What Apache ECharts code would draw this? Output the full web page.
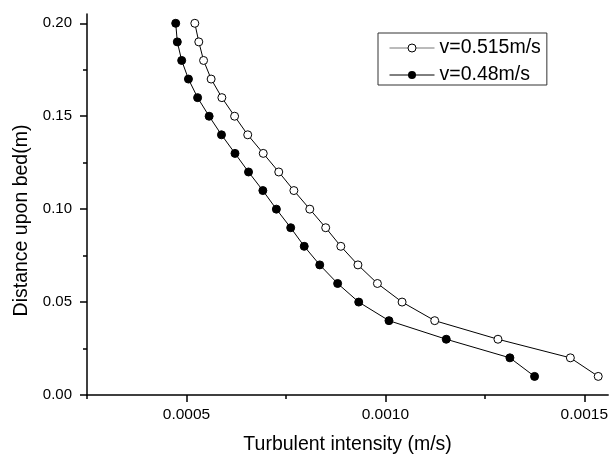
<!DOCTYPE html>
<html>
<head>
<meta charset="utf-8">
<script src="https://cdn.jsdelivr.net/npm/echarts@6/dist/echarts.min.js"></script>
<style>html,body{margin:0;padding:0;background:#fff}#chart{width:611px;height:460px}</style>
</head>
<body>
<div id="chart"></div>
<script>
const depth = [0.20,0.19,0.18,0.17,0.16,0.15,0.14,0.13,0.12,0.11,0.10,0.09,0.08,0.07,0.06,0.05,0.04,0.03,0.02,0.01];
const intensity515 = [0.000521,0.000531,0.000543,0.000562,0.000589,0.000621,0.000654,0.000693,0.000732,0.000770,0.000810,0.000850,0.000888,0.000931,0.000980,0.001042,0.001124,0.001283,0.001465,0.001535];
const intensity48 = [0.000473,0.000477,0.000488,0.000505,0.000528,0.000557,0.000588,0.000622,0.000656,0.000692,0.000726,0.000762,0.000796,0.000835,0.000880,0.000933,0.001009,0.001153,0.001313,0.001375];
const seriesNames = ['v=0.515m/s','v=0.48m/s'];
const xMajorTicks = [0.0005,0.0010,0.0015];
const xMinorTicks = [0.00025,0.00075,0.00125];
const yMajorTicks = [0.00,0.05,0.10,0.15,0.20];
const yMinorTicks = [0.025,0.075,0.125,0.175];
const xTitle = 'Turbulent intensity (m/s)';
const yTitle = 'Distance upon bed(m)';

const FONT = 'Liberation Sans, Arial, sans-serif';
const chart = echarts.init(document.getElementById('chart'), null, {renderer:'canvas'});
const zip = (xs) => xs.map((x,i) => [x, depth[i]]);
const axisLine = {show:true, lineStyle:{color:'#000', width:1.5}};
chart.setOption({
  animation:false,
  backgroundColor:'#fff',
  grid:{left:87, right:0, top:14, bottom:62, containLabel:false},
  legend:{
    orient:'vertical', left:378, top:33,
    data:[
      {name:seriesNames[0], lineStyle:{color:'#777', width:1}, itemStyle:{color:'#fff', borderColor:'#000', borderWidth:1}},
      {name:seriesNames[1], lineStyle:{color:'#000', width:1}, itemStyle:{color:'#000', borderColor:'#000', borderWidth:0}}
    ],
    itemWidth:45, itemHeight:10, itemGap:7, itemTextGap:5,
    padding:[5,6,0,11],
    borderColor:'#333', borderWidth:1, backgroundColor:'#fff',
    textStyle:{fontFamily:FONT, fontSize:19.5, color:'#000'}
  },
  xAxis:[{
    type:'value', min:0.00025, max:0.00156, position:'bottom',
    axisLine:axisLine,
    axisTick:{show:true, inside:false, length:7, lineStyle:{color:'#000', width:1.5}, customValues:xMajorTicks},
    axisLabel:{show:true, margin:12, fontFamily:FONT, fontSize:15.5, color:'#000', customValues:xMajorTicks, formatter:v=>v.toFixed(4)},
    splitLine:{show:false},
    name:xTitle, nameLocation:'middle', nameGap:40,
    nameTextStyle:{fontFamily:FONT, fontSize:19.5, color:'#000'}
  },{
    type:'value', min:0.00025, max:0.00156, position:'bottom',
    axisLine:{show:false},
    axisTick:{show:true, inside:false, length:4, lineStyle:{color:'#000', width:1.5}, customValues:xMinorTicks},
    axisLabel:{show:false},
    splitLine:{show:false}
  }],
  yAxis:[{
    type:'value', min:0, max:0.205, position:'left',
    axisLine:axisLine,
    axisTick:{show:true, inside:false, length:7, lineStyle:{color:'#000', width:1.5}, customValues:yMajorTicks},
    axisLabel:{show:true, margin:15, fontFamily:FONT, fontSize:15, color:'#000', customValues:yMajorTicks, formatter:v=>v.toFixed(2)},
    splitLine:{show:false},
    name:yTitle, nameLocation:'middle', nameGap:54, nameRotate:90,
    nameTextStyle:{fontFamily:FONT, fontSize:19.5, color:'#000', padding:[0,32,0,0]}
  },{
    type:'value', min:0, max:0.205, position:'left',
    axisLine:{show:false},
    axisTick:{show:true, inside:false, length:4, lineStyle:{color:'#000', width:1.5}, customValues:yMinorTicks},
    axisLabel:{show:false},
    splitLine:{show:false}
  }],
  series:[{
    name:seriesNames[0], type:'line', xAxisIndex:0, yAxisIndex:0,
    data:zip(intensity515),
    symbol:'circle', symbolSize:8, showAllSymbol:true,
    lineStyle:{color:'#000', width:1},
    itemStyle:{color:'#fff', borderColor:'#000', borderWidth:1},
    emphasis:{disabled:true}, z:3
  },{
    name:seriesNames[1], type:'line', xAxisIndex:0, yAxisIndex:0,
    data:zip(intensity48),
    symbol:'circle', symbolSize:8, showAllSymbol:true,
    lineStyle:{color:'#000', width:1},
    itemStyle:{color:'#000', borderColor:'#000', borderWidth:1},
    emphasis:{disabled:true}, z:3
  }]
});
</script>
</body>
</html>
